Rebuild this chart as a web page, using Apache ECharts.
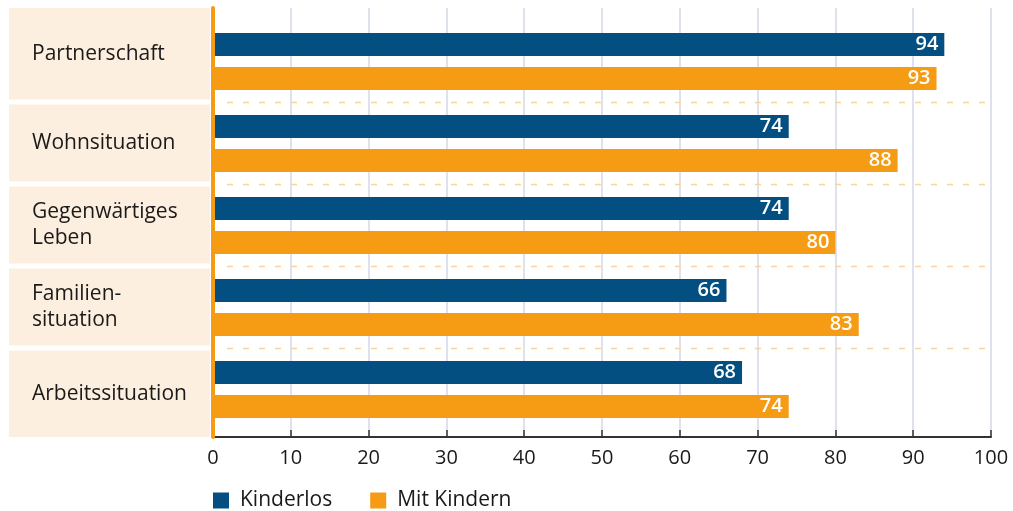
<!DOCTYPE html>
<html>
<head>
<meta charset="utf-8">
<script src="https://cdn.jsdelivr.net/npm/echarts@6/dist/echarts.min.js"></script>
<style>
  html, body { margin: 0; padding: 0; background: #ffffff; }
  #chart { width: 1013px; height: 511px; }
</style>
</head>
<body>
<div id="chart"></div>
<script>
// Zufriedenheit nach Lebensbereich (in %)
const categories = ['Partnerschaft', 'Wohnsituation', 'Gegenwärtiges\nLeben', 'Familien-\nsituation', 'Arbeitssituation'];
const kinderlos = [94, 74, 74, 66, 68];
const mitKindern = [93, 88, 80, 83, 74];
const seriesNames = ['Kinderlos', 'Mit Kindern'];

const BLUE = '#034f82';
const ORANGE = '#f59c14';
const BEIGE = '#fdefdf';
const FONT = '"Open Sans", "Noto Sans", sans-serif';
const TEXT = '#1a1a1a';

const chart = echarts.init(document.getElementById('chart'), null, { renderer: 'canvas' });

// The outer panels reach to the frame edges, so their labels sit a bit off the bar centre.
function categoryLabel(value, index) {
  if (index === 0) return '{first|' + value + '}';
  if (index === categories.length - 1) return '{last|' + value + '}';
  return '{mid|' + value + '}';
}
const labelText = { fontSize: 21, lineHeight: 26, color: TEXT, fontFamily: FONT };

const option = {
  animation: false,
  backgroundColor: '#ffffff',
  textStyle: { fontFamily: FONT },
  grid: [
    // frame: gridlines, value axis and the orange baseline
    { left: 213, right: 22, top: 8, bottom: 74 },
    // bars
    { left: 213, right: 22, top: 20.5, bottom: 80.5 }
  ],
  xAxis: [
    {
      gridIndex: 0, type: 'value', min: 0, max: 100, interval: 10,
      axisLine: { show: true, onZero: false, lineStyle: { color: '#333333', width: 2 } },
      axisTick: { show: true, inside: true, length: 7, lineStyle: { color: '#333333', width: 1.5 } },
      splitLine: { show: true, lineStyle: { color: '#d3d9e8', width: 1.5 } },
      axisLabel: { fontSize: 20, color: TEXT, margin: 11, fontFamily: FONT }
    },
    {
      gridIndex: 1, type: 'value', min: 0, max: 100, show: false
    }
  ],
  yAxis: [
    {
      gridIndex: 0, type: 'value', min: 0, max: 1, z: 5,
      axisLine: { show: true, onZero: false, lineStyle: { color: ORANGE, width: 4 } },
      axisTick: { show: false }, axisLabel: { show: false }, splitLine: { show: false }
    },
    {
      gridIndex: 1, type: 'category', data: categories, inverse: true,
      axisLine: { show: false }, axisTick: { show: false }, splitLine: { show: false },
      axisLabel: {
        align: 'left', margin: 181,
        formatter: categoryLabel,
        rich: {
          first: Object.assign({ padding: [0, 0, 14, 0] }, labelText),
          mid: Object.assign({ padding: [0, 0, 0, 0] }, labelText),
          last: Object.assign({ padding: [10, 0, 0, 0] }, labelText)
        }
      }
    }
  ],
  legend: {
    left: 213, top: 490, padding: 0,
    itemWidth: 16, itemHeight: 16, itemGap: 38, icon: 'rect',
    textStyle: { fontSize: 21, color: TEXT, fontFamily: FONT, padding: [0, 0, 0, 6] },
    data: seriesNames
  },
  series: [
    {
      name: seriesNames[0], type: 'bar', xAxisIndex: 1, yAxisIndex: 1,
      data: kinderlos, barWidth: 23, barGap: '47.8%',
      itemStyle: { color: BLUE },
      label: { show: true, position: 'insideRight', distance: 6, color: '#ffffff', fontSize: 20, fontWeight: 600, fontFamily: FONT }
    },
    {
      name: seriesNames[1], type: 'bar', xAxisIndex: 1, yAxisIndex: 1,
      data: mitKindern, barWidth: 23, barGap: '47.8%',
      itemStyle: { color: ORANGE },
      label: { show: true, position: 'insideRight', distance: 6, color: '#ffffff', fontSize: 20, fontWeight: 600, fontFamily: FONT }
    }
  ]
};

chart.setOption(option);

// Category panels behind the labels and dashed separators between groups,
// positioned from the axes' own pixel mapping.
function drawDecor() {
  const frameTop = chart.convertToPixel({ yAxisIndex: 0 }, 1);
  const frameBottom = chart.convertToPixel({ yAxisIndex: 0 }, 0);
  const xStart = chart.convertToPixel({ xAxisIndex: 0 }, 0);
  const xEnd = chart.convertToPixel({ xAxisIndex: 0 }, 100);
  const centers = categories.map(c => chart.convertToPixel({ yAxisIndex: 1 }, c));
  const band = centers[1] - centers[0];
  const els = [];
  centers.forEach((c, i) => {
    const top = i === 0 ? frameTop : c - band / 2 + 2;
    const bottom = i === centers.length - 1 ? frameBottom : c + band / 2 - 3;
    els.push({
      type: 'rect', z: -10, silent: true,
      shape: { x: 9, y: top, width: xStart - 3 - 9, height: bottom - top },
      style: { fill: BEIGE }
    });
    if (i > 0) {
      const y = c - band / 2;
      els.push({
        type: 'line', z: 1, silent: true,
        shape: { x1: xStart + 14, y1: y, x2: xEnd, y2: y },
        style: { stroke: '#fbd39b', lineWidth: 1.5, lineDash: [6, 10] }
      });
    }
  });
  chart.setOption({ graphic: { elements: els } });
}
drawDecor();
</script>
</body>
</html>
